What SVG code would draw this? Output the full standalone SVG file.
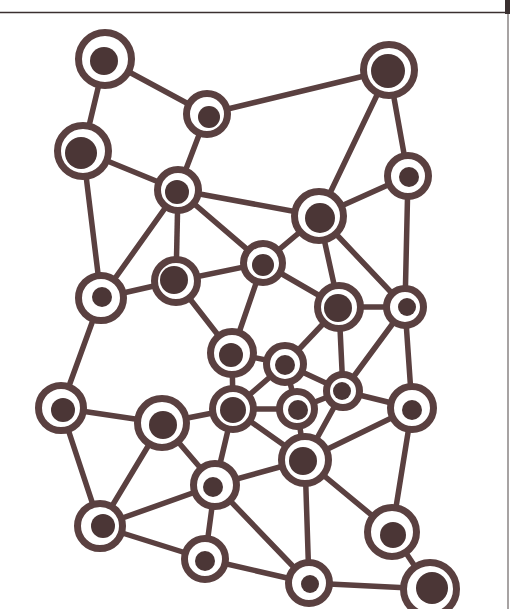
<svg xmlns="http://www.w3.org/2000/svg" width="510" height="609" viewBox="0 0 510 609">
<style>
.e{stroke:#5a4040;stroke-width:5.5;stroke-linecap:round;fill:none}
.ring{fill:#fff;stroke:#5a4040;stroke-width:7}
.dot{fill:#4b3636}
</style>
<rect x="0" y="0" width="510" height="609" fill="#fff"/>
<g id="frame">
<line x1="0" y1="12.5" x2="506" y2="12.5" stroke="#3a3030" stroke-width="1.6"/>
<line x1="508" y1="0" x2="508" y2="609" stroke="#8a8585" stroke-width="1.5"/>
<rect x="505" y="0" width="5" height="14" fill="#3a3030"/>
</g>
<g id="connectors">
<line class="e" x1="105" y1="59" x2="83" y2="151"/>
<line class="e" x1="105" y1="59" x2="207" y2="114"/>
<line class="e" x1="207" y1="114" x2="389" y2="70"/>
<line class="e" x1="207" y1="114" x2="178" y2="190"/>
<line class="e" x1="389" y1="70" x2="319" y2="216"/>
<line class="e" x1="389" y1="70" x2="408" y2="176"/>
<line class="e" x1="83" y1="151" x2="178" y2="190"/>
<line class="e" x1="83" y1="151" x2="101" y2="298"/>
<line class="e" x1="178" y1="190" x2="319" y2="216"/>
<line class="e" x1="178" y1="190" x2="176" y2="281"/>
<line class="e" x1="178" y1="190" x2="101" y2="298"/>
<line class="e" x1="178" y1="190" x2="263" y2="263"/>
<line class="e" x1="408" y1="176" x2="319" y2="216"/>
<line class="e" x1="408" y1="176" x2="405" y2="307"/>
<line class="e" x1="319" y1="216" x2="263" y2="263"/>
<line class="e" x1="319" y1="216" x2="339" y2="307"/>
<line class="e" x1="319" y1="216" x2="405" y2="307"/>
<line class="e" x1="101" y1="298" x2="176" y2="281"/>
<line class="e" x1="101" y1="298" x2="61" y2="408"/>
<line class="e" x1="176" y1="281" x2="263" y2="263"/>
<line class="e" x1="176" y1="281" x2="232" y2="353"/>
<line class="e" x1="263" y1="263" x2="232" y2="353"/>
<line class="e" x1="263" y1="263" x2="339" y2="307"/>
<line class="e" x1="339" y1="307" x2="405" y2="307"/>
<line class="e" x1="339" y1="307" x2="285" y2="364"/>
<line class="e" x1="339" y1="307" x2="343" y2="391"/>
<line class="e" x1="405" y1="307" x2="412" y2="408"/>
<line class="e" x1="405" y1="307" x2="343" y2="391"/>
<line class="e" x1="232" y1="353" x2="285" y2="364"/>
<line class="e" x1="232" y1="353" x2="233" y2="409"/>
<line class="e" x1="285" y1="364" x2="233" y2="409"/>
<line class="e" x1="285" y1="364" x2="343" y2="391"/>
<line class="e" x1="285" y1="364" x2="297" y2="409"/>
<line class="e" x1="233" y1="409" x2="297" y2="409"/>
<line class="e" x1="297" y1="409" x2="343" y2="391"/>
<line class="e" x1="297" y1="409" x2="305" y2="460"/>
<line class="e" x1="343" y1="391" x2="305" y2="460"/>
<line class="e" x1="343" y1="391" x2="412" y2="408"/>
<line class="e" x1="305" y1="460" x2="412" y2="408"/>
<line class="e" x1="61" y1="408" x2="162" y2="423"/>
<line class="e" x1="61" y1="408" x2="100" y2="526"/>
<line class="e" x1="162" y1="423" x2="233" y2="409"/>
<line class="e" x1="162" y1="423" x2="215" y2="485"/>
<line class="e" x1="162" y1="423" x2="100" y2="526"/>
<line class="e" x1="233" y1="409" x2="215" y2="485"/>
<line class="e" x1="233" y1="409" x2="305" y2="460"/>
<line class="e" x1="215" y1="485" x2="305" y2="460"/>
<line class="e" x1="215" y1="485" x2="100" y2="526"/>
<line class="e" x1="215" y1="485" x2="205" y2="559"/>
<line class="e" x1="215" y1="485" x2="309" y2="583"/>
<line class="e" x1="305" y1="460" x2="309" y2="583"/>
<line class="e" x1="305" y1="460" x2="392" y2="532"/>
<line class="e" x1="412" y1="408" x2="392" y2="532"/>
<line class="e" x1="100" y1="526" x2="205" y2="559"/>
<line class="e" x1="205" y1="559" x2="309" y2="583"/>
<line class="e" x1="309" y1="583" x2="430" y2="589"/>
<line class="e" x1="392" y1="532" x2="430" y2="589"/>
</g>
<g id="nA"><circle class="ring" cx="105" cy="59" r="26.5"/><circle class="dot" cx="104" cy="61" r="14"/></g>
<g id="nB"><circle class="ring" cx="207" cy="114" r="20.5"/><circle class="dot" cx="209" cy="117" r="11"/></g>
<g id="nC"><circle class="ring" cx="389" cy="70" r="25.5"/><circle class="dot" cx="388" cy="71" r="17"/></g>
<g id="nD"><circle class="ring" cx="83" cy="151" r="25.5"/><circle class="dot" cx="81" cy="153" r="16"/></g>
<g id="nE"><circle class="ring" cx="178" cy="190" r="20.5"/><circle class="dot" cx="177" cy="192" r="12"/></g>
<g id="nF"><circle class="ring" cx="408" cy="176" r="20.5"/><circle class="dot" cx="409" cy="177" r="10"/></g>
<g id="nG"><circle class="ring" cx="319" cy="216" r="24.5"/><circle class="dot" cx="320" cy="218" r="15"/></g>
<g id="nH"><circle class="ring" cx="101" cy="298" r="22.5"/><circle class="dot" cx="102" cy="297" r="10"/></g>
<g id="nI"><circle class="ring" cx="176" cy="281" r="21.5"/><circle class="dot" cx="174" cy="280" r="14"/></g>
<g id="nJ"><circle class="ring" cx="263" cy="263" r="19.5"/><circle class="dot" cx="263" cy="265" r="11"/></g>
<g id="nK"><circle class="ring" cx="339" cy="307" r="21.5"/><circle class="dot" cx="338" cy="308" r="14"/></g>
<g id="nL"><circle class="ring" cx="405" cy="307" r="18.5"/><circle class="dot" cx="407" cy="307" r="9"/></g>
<g id="nM"><circle class="ring" cx="232" cy="353" r="21.5"/><circle class="dot" cx="231" cy="355" r="12"/></g>
<g id="nN"><circle class="ring" cx="285" cy="364" r="18.5"/><circle class="dot" cx="285" cy="365" r="10"/></g>
<g id="nO"><circle class="ring" cx="343" cy="391" r="16.5"/><circle class="dot" cx="342" cy="391" r="9"/></g>
<g id="nP"><circle class="ring" cx="61" cy="408" r="22.5"/><circle class="dot" cx="63" cy="410" r="12"/></g>
<g id="nQ"><circle class="ring" cx="162" cy="423" r="24.5"/><circle class="dot" cx="163" cy="425" r="14"/></g>
<g id="nR"><circle class="ring" cx="233" cy="409" r="20.5"/><circle class="dot" cx="233" cy="410" r="13"/></g>
<g id="nS"><circle class="ring" cx="297" cy="409" r="17.5"/><circle class="dot" cx="298" cy="410" r="10"/></g>
<g id="nT"><circle class="ring" cx="412" cy="408" r="21.5"/><circle class="dot" cx="412" cy="410" r="10"/></g>
<g id="nU"><circle class="ring" cx="305" cy="460" r="23.5"/><circle class="dot" cx="303" cy="461" r="14"/></g>
<g id="nV"><circle class="ring" cx="215" cy="485" r="21.5"/><circle class="dot" cx="213" cy="487" r="10"/></g>
<g id="nW"><circle class="ring" cx="100" cy="526" r="22.5"/><circle class="dot" cx="103" cy="526" r="12"/></g>
<g id="nX"><circle class="ring" cx="205" cy="559" r="20.5"/><circle class="dot" cx="205" cy="561" r="10"/></g>
<g id="nY"><circle class="ring" cx="392" cy="532" r="24.5"/><circle class="dot" cx="393" cy="535" r="13"/></g>
<g id="nZ"><circle class="ring" cx="309" cy="583" r="20.5"/><circle class="dot" cx="310" cy="584" r="9"/></g>
<g id="nAA"><circle class="ring" cx="430" cy="589" r="26.5"/><circle class="dot" cx="432" cy="588" r="16"/></g>
</svg>
